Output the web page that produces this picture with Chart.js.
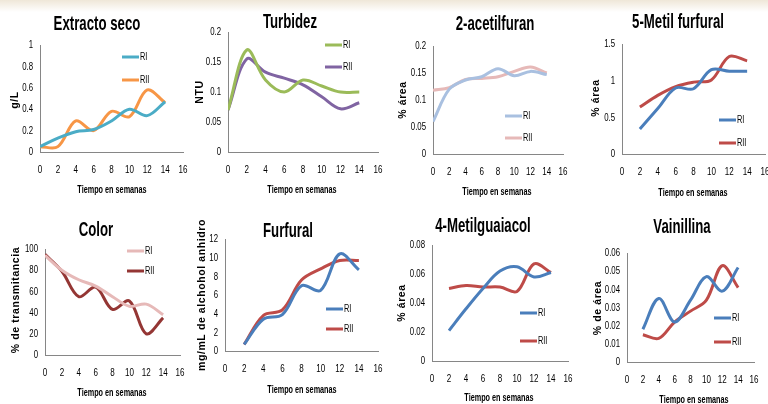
<!DOCTYPE html>
<html>
<head>
<meta charset="utf-8">
<script src="https://cdn.jsdelivr.net/npm/chart.js@4/dist/chart.umd.min.js"></script>
<style>
  html, body { margin: 0; padding: 0; background: #fff; width: 768px; height: 404px; overflow: hidden; }
  #wrap { position: relative; width: 768px; height: 404px; }
  #band { position: absolute; left: 0; top: 0; width: 768px; height: 12px; background: linear-gradient(#efe7d8, #ffffff); }
  canvas { position: absolute; left: 0; top: 0; }
</style>
</head>
<body>
<div id="wrap">
  <div id="band"></div>
  <canvas id="c1" width="780" height="404"></canvas>
  <canvas id="c2" width="780" height="404"></canvas>
  <canvas id="c3" width="780" height="404"></canvas>
  <canvas id="c4" width="780" height="404"></canvas>
  <canvas id="c5" width="780" height="404"></canvas>
  <canvas id="c6" width="780" height="404"></canvas>
  <canvas id="c7" width="780" height="404"></canvas>
  <canvas id="c8" width="780" height="404"></canvas>
</div>
<script>
// weeks
const weeksAll = [0, 2, 4, 6, 8, 10, 12, 14];
const weeksFrom2 = [2, 4, 6, 8, 10, 12, 14];
const seriesNames = ['RI', 'RII'];

// Extracto seco (g/L)
const extractoRI = [0.05, 0.13, 0.19, 0.21, 0.29, 0.40, 0.34, 0.47];
const extractoRII = [0.05, 0.05, 0.29, 0.20, 0.38, 0.33, 0.58, 0.46];
// Turbidez (NTU)
const turbidezRI = [0.07, 0.17, 0.12, 0.10, 0.12, 0.11, 0.10, 0.10];
const turbidezRII = [0.07, 0.155, 0.133, 0.123, 0.112, 0.092, 0.072, 0.082];
// 2-acetilfuran (% area)
const acetilRI = [0.06, 0.12, 0.137, 0.143, 0.158, 0.145, 0.153, 0.147];
const acetilRII = [0.118, 0.123, 0.138, 0.14, 0.143, 0.153, 0.161, 0.15];
// 5-Metil furfural (% area), from week 2
const metilFurRI = [0.34, 0.62, 0.90, 0.89, 1.15, 1.13, 1.13];
const metilFurRII = [0.64, 0.80, 0.92, 0.98, 1.01, 1.33, 1.27];
// Color (% transmitancia)
const colorRI = [94, 80, 71, 65, 55, 46, 48, 38];
const colorRII = [95, 79, 55, 64, 43, 51, 20, 35];
// Furfural (mg/mL), from week 2
const furfuralRI = [0.7, 3.4, 3.9, 7.0, 6.5, 10.4, 8.7];
const furfuralRII = [0.7, 3.8, 4.4, 7.6, 8.8, 9.7, 9.7];
// 4-Metilguaiacol (% area), from week 2
const guaiacolRI = [0.021, 0.036, 0.05, 0.062, 0.065, 0.058, 0.061];
const guaiacolRII = [0.05, 0.052, 0.051, 0.051, 0.048, 0.067, 0.061];
// Vainillina (% de area), from week 2
const vainillinaRI = [0.018, 0.035, 0.022, 0.034, 0.047, 0.039, 0.052];
const vainillinaRII = [0.015, 0.013, 0.022, 0.028, 0.034, 0.053, 0.041];

const ARIAL = '"Liberation Sans", Arial, sans-serif';

function scaledText(ctx, txt, x, y, font, sx, align, color) {
    ctx.save();
    ctx.font = font;
    ctx.fillStyle = color || '#000';
    ctx.textAlign = align || 'center';
    ctx.textBaseline = 'middle';
    ctx.translate(x, y);
    ctx.scale(sx, 1);
    ctx.fillText(txt, 0, 0);
    ctx.restore();
}

const plainNum = (v) => String(parseFloat(Number(v).toFixed(4)));

// draws titles, condensed tick labels and the inside legend (Excel look)
const deco = {
    id: 'deco',
    afterDraw(chart, args, o) {
        const ctx = chart.ctx;
        const xs = chart.scales.x, ys = chart.scales.y;
        const tickFont = '11.5px ' + ARIAL;
        xs.ticks.forEach(t => {
            scaledText(ctx, plainNum(t.value), xs.getPixelForValue(t.value), xs.top + 18, tickFont, 0.7, 'center', '#000');
        });
        ys.ticks.forEach(t => {
            scaledText(ctx, plainNum(t.value), ys.right - 7, ys.getPixelForValue(t.value), tickFont, 0.68, 'right', '#000');
        });
        scaledText(ctx, o.title, o.titleX, o.titleY, 'bold 21px ' + ARIAL, 0.63);
        scaledText(ctx, 'Tiempo en semanas', o.xtX, o.xtY, 'bold 11px ' + ARIAL, 0.66);
        // rotated y title
        ctx.save();
        ctx.font = 'bold 10.5px ' + ARIAL;
        ctx.letterSpacing = '0.6px';
        ctx.fillStyle = '#000';
        ctx.textAlign = 'center';
        ctx.textBaseline = 'middle';
        ctx.translate(o.ytX, o.ytY);
        ctx.rotate(-Math.PI / 2);
        ctx.fillText(o.yTitle, 0, 0);
        ctx.restore();
        // legend inside plot
        chart.data.datasets.forEach((ds, i) => {
            const y = o.legY[i];
            ctx.save();
            ctx.strokeStyle = ds.borderColor;
            ctx.lineWidth = 3;
            ctx.beginPath();
            ctx.moveTo(o.legX, y);
            ctx.lineTo(o.legX + 17, y);
            ctx.stroke();
            ctx.restore();
            scaledText(ctx, ds.label, o.legX + 18, y, '11.5px ' + ARIAL, 0.64, 'left', '#000');
        });
    }
};

function pts(xs, ys) {
    return xs.map((x, i) => ({ x: x, y: ys[i] }));
}

// box: plot area in page pixels [left, top, right, bottom]
function panel(id, box, yMax, yStep, xs, s1, s2, colors, o) {
    const [L, T, R, B] = box;
    new Chart(document.getElementById(id), {
        type: 'line',
        data: {
            datasets: [
                { label: seriesNames[0], data: pts(xs, s1), borderColor: colors[0], borderWidth: 3, pointRadius: 0, tension: 0.35, fill: false },
                { label: seriesNames[1], data: pts(xs, s2), borderColor: colors[1], borderWidth: 3, pointRadius: 0, tension: 0.35, fill: false }
            ]
        },
        options: {
            responsive: false,
            animation: false,
            layout: { padding: { left: L - 40, top: T, right: 780 - R, bottom: 404 - B - 30 } },
            scales: {
                x: {
                    type: 'linear', min: 0, max: 16,
                    afterFit: (s) => { s.height = 30; },
                    grid: { display: false, drawTicks: false },
                    border: { display: true, color: '#868686', width: 1 },
                    ticks: { stepSize: 2, autoSkip: false, display: false }
                },
                y: {
                    min: 0, max: yMax,
                    afterFit: (s) => { s.width = 40; },
                    grid: { display: false, drawTicks: false },
                    border: { display: true, color: '#868686', width: 1 },
                    ticks: { stepSize: yStep, autoSkip: false, display: false }
                }
            },
            plugins: { legend: { display: false }, tooltip: { enabled: false }, deco: o }
        },
        plugins: [deco]
    });
}

const BLUE = '#4a7ebb', RED = '#be4b48';

panel('c1', [40, 45, 183, 152], 1, 0.2, weeksAll, extractoRI, extractoRII, ['#4bacc6', '#f79646'],
    { title: 'Extracto seco', titleX: 97, titleY: 24, yTitle: 'g/L', ytX: 15, ytY: 100, xtX: 112, xtY: 190, legX: 122, legY: [57, 80] });
panel('c2', [228, 32, 378, 152], 0.2, 0.05, weeksAll, turbidezRI, turbidezRII, ['#9bbb59', '#8064a2'],
    { title: 'Turbidez', titleX: 290, titleY: 22, yTitle: 'NTU', ytX: 200, ytY: 92, xtX: 302, xtY: 190, legX: 325, legY: [45, 67] });
panel('c3', [433, 46, 563, 154], 0.2, 0.05, weeksAll, acetilRI, acetilRII, ['#a9c0e0', '#e6b9b8'],
    { title: '2-acetilfuran', titleX: 495, titleY: 24, yTitle: '% área', ytX: 403, ytY: 100, xtX: 497, xtY: 192, legX: 505, legY: [116, 138] });
panel('c4', [622, 44, 765, 154], 1.5, 0.5, weeksFrom2, metilFurRI, metilFurRII, [BLUE, RED],
    { title: '5-Metil furfural', titleX: 678, titleY: 22, yTitle: '% área', ytX: 596, ytY: 98, xtX: 693, xtY: 193, legX: 719, legY: [120, 143] });
panel('c5', [45, 249, 180, 355], 100, 20, weeksAll, colorRI, colorRII, ['#e6b9b8', '#943634'],
    { title: 'Color', titleX: 96, titleY: 230, yTitle: '% de transmitancia', ytX: 16, ytY: 300, xtX: 112, xtY: 393, legX: 127, legY: [251, 271] });
panel('c6', [225, 239, 378, 351], 12, 2, weeksFrom2, furfuralRI, furfuralRII, [BLUE, RED],
    { title: 'Furfural', titleX: 288, titleY: 231, yTitle: 'mg/mL de alchohol anhidro', ytX: 202, ytY: 295, xtX: 302, xtY: 390, legX: 326, legY: [309, 329] });
panel('c7', [432, 245, 568, 361], 0.08, 0.02, weeksFrom2, guaiacolRI, guaiacolRII, [BLUE, RED],
    { title: '4-Metilguaiacol', titleX: 483, titleY: 226, yTitle: '% área', ytX: 402, ytY: 303, xtX: 499, xtY: 398, legX: 520, legY: [313, 341] });
panel('c8', [627, 253, 754, 362], 0.06, 0.01, weeksFrom2, vainillinaRI, vainillinaRII, [BLUE, RED],
    { title: 'Vainillina', titleX: 682, titleY: 227, yTitle: '% de área', ytX: 598, ytY: 308, xtX: 694, xtY: 400, legX: 714, legY: [318, 342] });
</script>
</body>
</html>
